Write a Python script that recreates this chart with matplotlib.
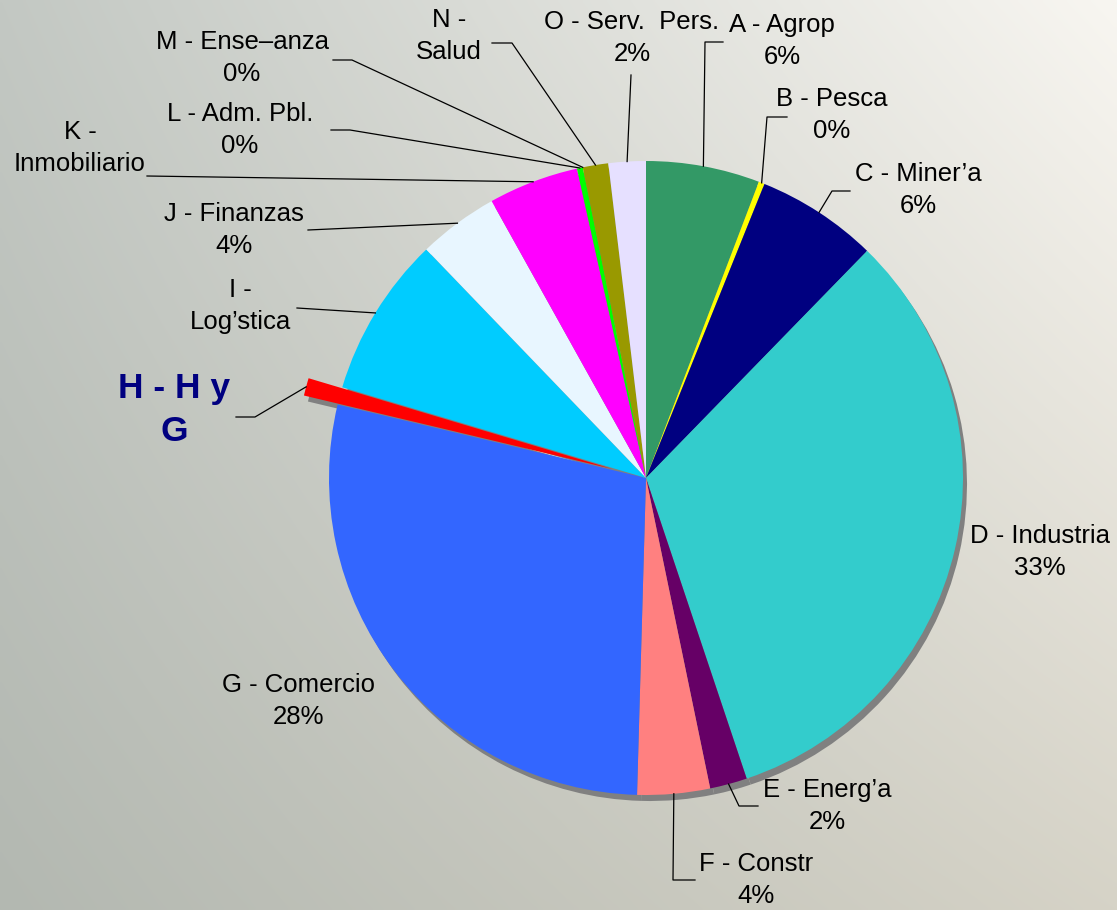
import numpy as np
import matplotlib
matplotlib.use('Agg')
import matplotlib.pyplot as plt

# datos (porcentaje por sector)
sectores = ['A - Agrop', 'B - Pesca', 'C - Miner’a', 'D - Industria', 'E - Energ’a',
            'F - Constr', 'G - Comercio', 'H - H y\nG', 'I -\nLog’stica', 'J - Finanzas',
            'K -\nInmobiliario', 'L - Adm. Pbl.', 'M - Ense–anza', 'N -\nSalud',
            'O - Serv.  Pers.']
valores = [5.8, 0.3, 6.2, 32.6, 1.9, 3.7, 28.3, 0.9, 8.2, 4.1, 4.6, 0.3, 0.0, 1.3, 1.9]
mostrar_pct = [True, True, True, True, True, True, True, False, False, True,
               False, True, True, False, True]
colores = ['#339966', '#FFFF00', '#000080', '#33CCCC', '#660066', '#FF8080', '#3366FF',
           '#FF0000', '#00CCFF', '#E8F6FF', '#FF00FF', '#00FF00', '#FFCC00', '#999900',
           '#E6E0FF']
explode = [0, 0, 0, 0, 0, 0, 0, 0.11, 0, 0, 0, 0, 0, 0, 0]

W, H = 1117, 910
cx, cy, R = 646, H - 478, 317
# pie() toma explode en unidades de datos, aquí px
explode_px = [e * R for e in explode]

# posiciones de etiquetas (px, origen arriba-izq) y quiebres de las líneas guía
pos_texto = [(782, 41), (832, 115), (918, 190), (1040, 552), (827, 806),
             (756, 880), (298, 701), (174, 410), (240, 306), (234, 230),
             (80, 148), (240, 130), (242, 58), (449, 36), (632, 38)]
guias = [[(705, 42), (723, 42)], [(767, 117), (787, 117)], [(832, 191), (850, 191)],
         None, [(739, 806), (758, 806)], [(673, 880), (695, 880)], None,
         [(255, 417), (236, 417)], [(297, 308)], [(330, 229), (308, 230)],
         [(147, 176)], [(350, 130), (331, 130)], [(352, 60), (333, 60)],
         [(512, 43), (492, 43)], [(631, 75)]]

fig = plt.figure(figsize=(W / 100, H / 100), dpi=100)
ax = fig.add_axes([0, 0, 1, 1])

# fondo degradado
gx = np.linspace(0, 1, 300)
gy = np.linspace(0, 1, 300)
XX, YY = np.meshgrid(gx, gy)
tl = np.array([0xC3, 0xC8, 0xC3]) / 255
tr = np.array([0xF8, 0xF6, 0xF1]) / 255
bl = np.array([0xB3, 0xB8, 0xB1]) / 255
br = np.array([0xD6, 0xD3, 0xC7]) / 255
img = ((1 - XX)[..., None] * (1 - YY)[..., None] * tl + XX[..., None] * (1 - YY)[..., None] * tr
       + (1 - XX)[..., None] * YY[..., None] * bl + XX[..., None] * YY[..., None] * br)
ax.imshow(img, extent=(0, W, 0, H), origin='upper', zorder=0, interpolation='bilinear')

# sombra
ax.pie(valores, colors=['#808080'] * len(valores), startangle=90, counterclock=False,
       center=(cx + 4, cy - 6), radius=R, explode=explode_px,
       wedgeprops=dict(linewidth=0, zorder=1))
wedges, _ = ax.pie(valores, colors=colores, startangle=90, counterclock=False,
                   center=(cx, cy), radius=R, explode=explode_px,
                   wedgeprops=dict(linewidth=0, zorder=2))
wedges[7].set_zorder(3)

total = sum(valores)
for i, w in enumerate(wedges):
    txt = sectores[i]
    if mostrar_pct[i]:
        txt += f'\n{valores[i] / total * 100:.0f}%'
    tx, ty = pos_texto[i]
    if i == 7:
        ax.text(tx, H - ty, txt, ha='center', va='center', fontsize=25.5,
                fontweight='bold', color='#000080', family='Liberation Sans',
                linespacing=1.4, zorder=5)
    else:
        ax.text(tx, H - ty, txt, ha='center', va='center', fontsize=18.5,
                color='black', family='Liberation Sans', linespacing=1.4, zorder=5)
    if guias[i] is not None:
        ang = np.deg2rad((w.theta1 + w.theta2) / 2)
        x0 = w.center[0] + w.r * np.cos(ang)
        y0 = w.center[1] + w.r * np.sin(ang)
        xs = [x0] + [p[0] for p in guias[i]]
        ys = [y0] + [H - p[1] for p in guias[i]]
        ax.plot(xs, ys, color='black', lw=0.9, zorder=4)

ax.set_xlim(0, W)
ax.set_ylim(0, H)
ax.set_aspect('equal')
ax.axis('off')
fig.savefig('out.png', dpi=100)
